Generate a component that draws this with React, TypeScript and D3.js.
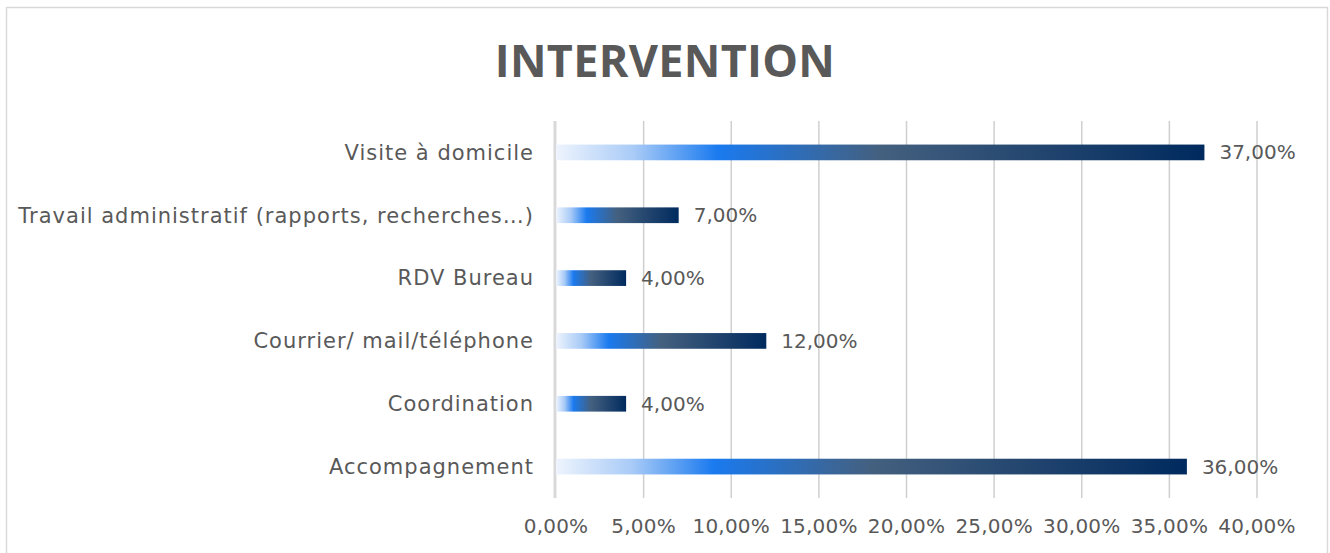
import React, { useEffect, useRef } from 'react';
import * as d3 from 'd3';

const categories = [
  'Visite à domicile',
  'Travail administratif (rapports, recherches…)',
  'RDV Bureau',
  'Courrier/ mail/téléphone',
  'Coordination',
  'Accompagnement',
];
const values = [37, 7, 4, 12, 4, 36];
const ticks = [0, 5, 10, 15, 20, 25, 30, 35, 40];

const fmt = (v: number) => v.toFixed(2).replace('.', ',') + '%';

const App = () => {
  const svgRef = useRef<SVGSVGElement>(null);

  useEffect(() => {
    const svg = d3.select(svgRef.current);
    svg.selectAll('*').remove();

    const width = 1330;
    const height = 553;
    const font = "'DejaVu Sans', sans-serif";
    const textColor = '#595959';

    svg.attr('width', width).attr('height', height);

    // gradient used on each bar
    const grad = svg.append('defs').append('linearGradient')
      .attr('id', 'barGrad')
      .attr('x1', '0').attr('x2', '1').attr('y1', '0').attr('y2', '0');
    [
      ['0%', '#eef4fd'],
      ['12%', '#a9cbf7'],
      ['25%', '#1a7aef'],
      ['50%', '#44607f'],
      ['100%', '#002a5e'],
    ].forEach(([o, c]) => grad.append('stop').attr('offset', o).attr('stop-color', c));

    // outer frame
    svg.append('rect')
      .attr('x', 6.5).attr('y', 7.5)
      .attr('width', 1321).attr('height', 550)
      .attr('fill', '#fff')
      .attr('stroke', '#d9d9d9')
      .attr('stroke-width', 1.5);

    svg.append('text')
      .attr('x', 665).attr('y', 77)
      .attr('text-anchor', 'middle')
      .style('font-family', "'Open Sans', sans-serif")
      .style('font-weight', 700)
      .style('font-size', '45px')
      .style('letter-spacing', '0.3px')
      .attr('fill', textColor)
      .text('INTERVENTION');

    const x = d3.scaleLinear().domain([0, 40]).range([556, 1257]);
    const y = d3.scaleBand().domain(categories).range([121, 498]).paddingInner(0.75).paddingOuter(0.375);

    const g = svg.append('g');

    g.selectAll('.grid')
      .data(ticks.slice(1))
      .enter().append('line')
      .attr('x1', d => x(d)).attr('x2', d => x(d))
      .attr('y1', 121).attr('y2', 498)
      .attr('stroke', '#cfcfcf')
      .attr('stroke-width', 1.5);

    g.append('line')
      .attr('x1', x(0) - 1).attr('x2', x(0) - 1)
      .attr('y1', 121).attr('y2', 498)
      .attr('stroke', '#d9d9d9')
      .attr('stroke-width', 3);

    g.selectAll('.bar')
      .data(values)
      .enter().append('rect')
      .attr('x', x(0))
      .attr('y', (d, i) => y(categories[i])!)
      .attr('width', d => x(d) - x(0))
      .attr('height', y.bandwidth())
      .attr('fill', 'url(#barGrad)');

    const label = (sel: any) => sel
      .style('font-family', font)
      .style('font-size', '21px')
      .style('letter-spacing', '1px')
      .attr('fill', textColor);

    g.selectAll('.val')
      .data(values)
      .enter().append('text')
      .attr('x', d => x(d) + 15)
      .attr('y', (d, i) => y(categories[i])! + y.bandwidth() / 2)
      .attr('dy', '0.35em')
      .call(label)
      .style('font-size', '20px')
      .style('letter-spacing', '0px')
      .text(d => fmt(d));

    g.selectAll('.cat')
      .data(categories)
      .enter().append('text')
      .attr('x', 534)
      .attr('y', d => y(d)! + y.bandwidth() / 2)
      .attr('dy', '0.35em')
      .attr('text-anchor', 'end')
      .call(label)
      .text(d => d);

    g.selectAll('.tick')
      .data(ticks)
      .enter().append('text')
      .attr('x', d => x(d))
      .attr('y', 526)
      .attr('dy', '0.35em')
      .attr('text-anchor', 'middle')
      .call(label)
      .style('font-size', '20px')
      .style('letter-spacing', '0.2px')
      .text(d => fmt(d));
  }, []);

  return <svg ref={svgRef} style={{ position: 'absolute', left: 0, top: 0 }}></svg>;
};

export default App;
